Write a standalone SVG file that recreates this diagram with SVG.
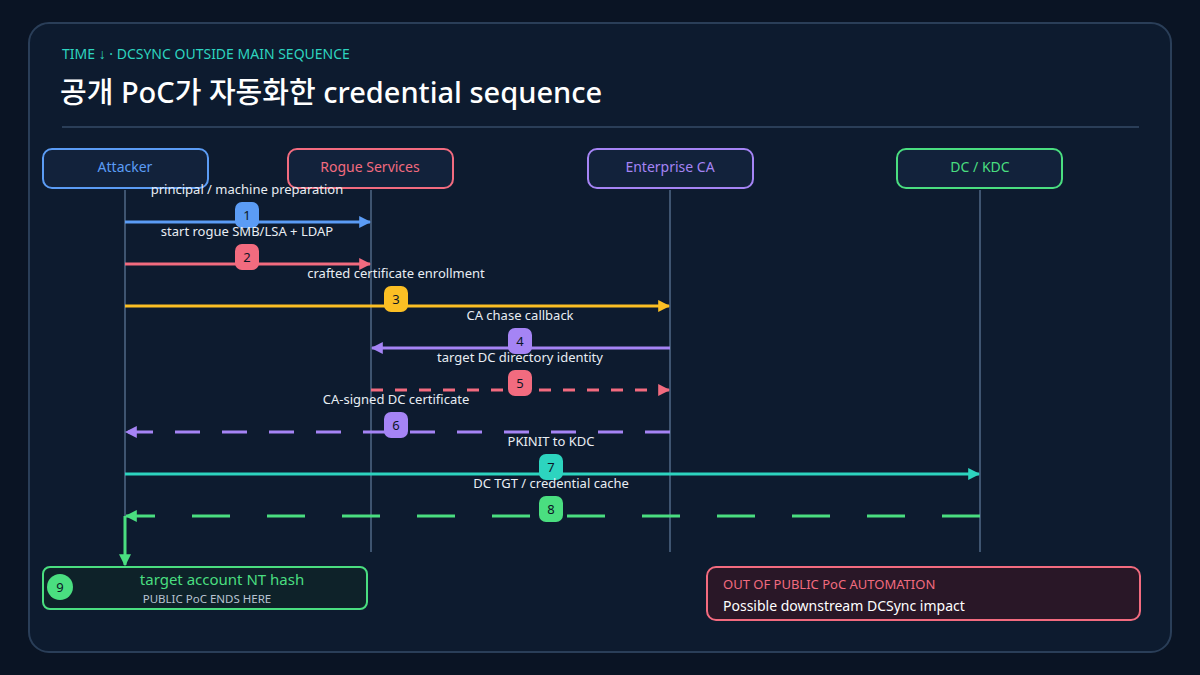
<svg xmlns="http://www.w3.org/2000/svg" width="1200" height="675" viewBox="0 0 1200 675">
<defs>
<style>
text{font-family:"Noto Sans","Liberation Sans","Noto Sans CJK KR",sans-serif}
.node{fill:#12223b;stroke-width:2}
.nl{font-size:14px;text-anchor:middle}
.life{stroke:#3e5470;stroke-width:2}
.ml{fill:#e8edf3;font-size:13px;text-anchor:middle}
.bn{font-size:13px;text-anchor:middle;fill:#0b1626}
.m{stroke-width:3;fill:none}
</style>
<marker id="ab" viewBox="0 0 10 10" refX="9" refY="5" markerWidth="4" markerHeight="4" orient="auto-start-reverse"><path d="M0,0L10,5L0,10z" fill="#5b9cf5"/></marker>
<marker id="ar" viewBox="0 0 10 10" refX="9" refY="5" markerWidth="4" markerHeight="4" orient="auto-start-reverse"><path d="M0,0L10,5L0,10z" fill="#f26b7f"/></marker>
<marker id="ay" viewBox="0 0 10 10" refX="9" refY="5" markerWidth="4" markerHeight="4" orient="auto-start-reverse"><path d="M0,0L10,5L0,10z" fill="#fbbf24"/></marker>
<marker id="ap" viewBox="0 0 10 10" refX="9" refY="5" markerWidth="4" markerHeight="4" orient="auto-start-reverse"><path d="M0,0L10,5L0,10z" fill="#a584f5"/></marker>
<marker id="at" viewBox="0 0 10 10" refX="9" refY="5" markerWidth="4" markerHeight="4" orient="auto-start-reverse"><path d="M0,0L10,5L0,10z" fill="#2dd4bf"/></marker>
<marker id="ag" viewBox="0 0 10 10" refX="9" refY="5" markerWidth="4" markerHeight="4" orient="auto-start-reverse"><path d="M0,0L10,5L0,10z" fill="#4ade80"/></marker>
</defs>
<rect width="1200" height="675" fill="#0a1424"/>
<rect x="29" y="23" width="1142" height="629" rx="20" fill="#0d1b2f" stroke="#2a3e58" stroke-width="2"/>
<text x="62" y="59" font-size="14" fill="#2dd4bf">TIME ↓ · DCSYNC OUTSIDE MAIN SEQUENCE</text>
<text x="60" y="103" font-size="29" font-weight="500" fill="#ffffff">공개 PoC가 자동화한 credential sequence</text>
<line x1="62" y1="127" x2="1139" y2="127" stroke="#2a3e58" stroke-width="2"/>

<g id="lifelines">
<line class="life" x1="125" y1="190" x2="125" y2="552"/>
<line class="life" x1="371" y1="190" x2="371" y2="552"/>
<line class="life" x1="670" y1="190" x2="670" y2="552"/>
<line class="life" x1="980" y1="190" x2="980" y2="552"/>
</g>
<g id="n-attacker"><rect class="node" x="43" y="149" width="165" height="39" rx="9" stroke="#5b9cf5"/><text class="nl" x="125" y="172" fill="#5b9cf5">Attacker</text></g>
<g id="n-rogue"><rect class="node" x="288" y="149" width="165" height="39" rx="9" stroke="#f26b7f"/><text class="nl" x="370" y="172" fill="#f26b7f">Rogue Services</text></g>
<g id="n-ca"><rect class="node" x="588" y="149" width="165" height="39" rx="9" stroke="#a584f5"/><text class="nl" x="670" y="172" fill="#a584f5">Enterprise CA</text></g>
<g id="n-dc"><rect class="node" x="897" y="149" width="165" height="39" rx="9" stroke="#4ade80"/><text class="nl" x="980" y="172" fill="#4ade80">DC / KDC</text></g>

<g id="connectors">
<line class="m" x1="125" y1="222" x2="370" y2="222" stroke="#5b9cf5" marker-end="url(#ab)"/>
<line class="m" x1="125" y1="264" x2="370" y2="264" stroke="#f26b7f" marker-end="url(#ar)"/>
<line class="m" x1="125" y1="306" x2="669" y2="306" stroke="#fbbf24" marker-end="url(#ay)"/>
<line class="m" x1="670" y1="348" x2="372" y2="348" stroke="#a584f5" marker-end="url(#ap)"/>
<line class="m" x1="371" y1="390" x2="669" y2="390" stroke="#f26b7f" stroke-dasharray="12 12" marker-end="url(#ar)"/>
<line class="m" x1="670" y1="432" x2="126" y2="432" stroke="#a584f5" stroke-dasharray="25 22" marker-end="url(#ap)"/>
<line class="m" x1="125" y1="474" x2="979" y2="474" stroke="#2dd4bf" marker-end="url(#at)"/>
<line class="m" x1="980" y1="516" x2="126" y2="516" stroke="#4ade80" stroke-dasharray="38 37" marker-end="url(#ag)"/>
<polyline class="m" points="125,516 125,565" stroke="#4ade80" marker-end="url(#ag)"/>
</g>

<g id="labels">
<text class="ml" x="247" y="194">principal / machine preparation</text>
<rect x="235" y="202" width="24" height="26" rx="7" fill="#5b9cf5"/><text class="bn" x="247" y="220">1</text>
<text class="ml" x="247" y="236">start rogue SMB/LSA + LDAP</text>
<rect x="235" y="244" width="24" height="26" rx="7" fill="#f26b7f"/><text class="bn" x="247" y="262">2</text>
<text class="ml" x="396" y="278">crafted certificate enrollment</text>
<rect x="384" y="286" width="24" height="26" rx="7" fill="#fbbf24"/><text class="bn" x="396" y="304">3</text>
<text class="ml" x="520" y="320">CA chase callback</text>
<rect x="508" y="328" width="24" height="26" rx="7" fill="#a584f5"/><text class="bn" x="520" y="346">4</text>
<text class="ml" x="520" y="362">target DC directory identity</text>
<rect x="508" y="370" width="24" height="26" rx="7" fill="#f26b7f"/><text class="bn" x="520" y="388">5</text>
<text class="ml" x="396" y="404">CA-signed DC certificate</text>
<rect x="384" y="412" width="24" height="26" rx="7" fill="#a584f5"/><text class="bn" x="396" y="430">6</text>
<text class="ml" x="551" y="446">PKINIT to KDC</text>
<rect x="539" y="454" width="24" height="26" rx="7" fill="#2dd4bf"/><text class="bn" x="551" y="472">7</text>
<text class="ml" x="551" y="488">DC TGT / credential cache</text>
<rect x="539" y="496" width="24" height="26" rx="7" fill="#4ade80"/><text class="bn" x="551" y="514">8</text>
</g>

<g id="n-result">
<rect x="43" y="567" width="324" height="42" rx="7" fill="#0e2229" stroke="#4ade80" stroke-width="2"/>
<circle cx="60" cy="587" r="13" fill="#4ade80"/><text class="bn" x="60" y="592" font-size="14">9</text>
<text x="222" y="585" font-size="15" fill="#4ade80" text-anchor="middle">target account NT hash</text>
<text x="207" y="603" font-size="11.5" fill="#b8c3d1" text-anchor="middle">PUBLIC PoC ENDS HERE</text>
</g>
<g id="n-out">
<rect x="707" y="567" width="433" height="53" rx="9" fill="#291727" stroke="#f26b7f" stroke-width="2"/>
<text x="723" y="589" font-size="13" fill="#f26b7f">OUT OF PUBLIC PoC AUTOMATION</text>
<text x="723" y="611" font-size="14" fill="#ffffff">Possible downstream DCSync impact</text>
</g>
</svg>
